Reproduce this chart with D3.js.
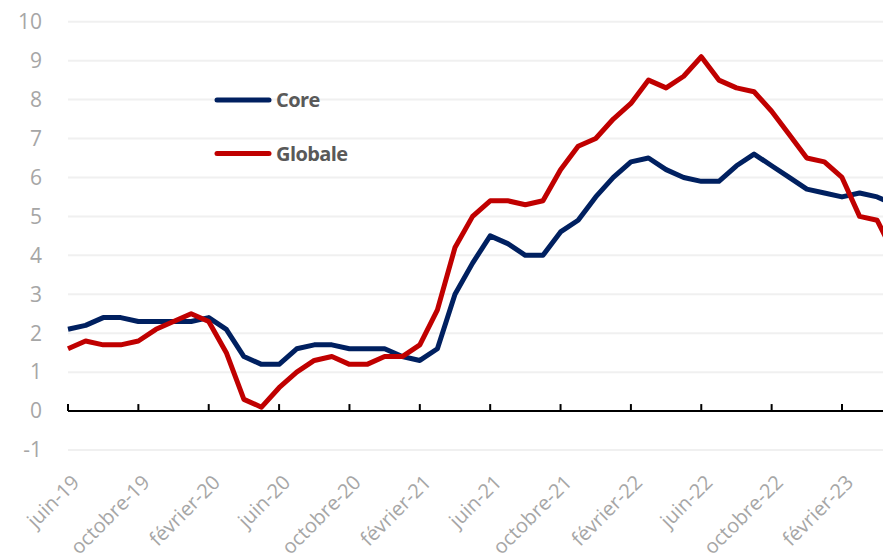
<!DOCTYPE html>
<html><head><meta charset="utf-8">
<script src="https://cdn.jsdelivr.net/npm/d3@7"></script>
<style>body{margin:0;background:#fff}svg{display:block}</style>
</head><body>
<svg id="c" width="883" height="553"></svg>
<script>
const months = ["juin-19","juillet-19","août-19","septembre-19","octobre-19","novembre-19","décembre-19","janvier-20","février-20","mars-20","avril-20","mai-20","juin-20","juillet-20","août-20","septembre-20","octobre-20","novembre-20","décembre-20","janvier-21","février-21","mars-21","avril-21","mai-21","juin-21","juillet-21","août-21","septembre-21","octobre-21","novembre-21","décembre-21","janvier-22","février-22","mars-22","avril-22","mai-22","juin-22","juillet-22","août-22","septembre-22","octobre-22","novembre-22","décembre-22","janvier-23","février-23","mars-23","avril-23","mai-23"];
const core = [2.1,2.2,2.4,2.4,2.3,2.3,2.3,2.3,2.4,2.1,1.4,1.2,1.2,1.6,1.7,1.7,1.6,1.6,1.6,1.4,1.3,1.6,3.0,3.8,4.5,4.3,4.0,4.0,4.6,4.9,5.5,6.0,6.4,6.5,6.2,6.0,5.9,5.9,6.3,6.6,6.3,6.0,5.7,5.6,5.5,5.6,5.5,5.3];
const globale = [1.6,1.8,1.7,1.7,1.8,2.1,2.3,2.5,2.3,1.5,0.3,0.1,0.6,1.0,1.3,1.4,1.2,1.2,1.4,1.4,1.7,2.6,4.2,5.0,5.4,5.4,5.3,5.4,6.2,6.8,7.0,7.5,7.9,8.5,8.3,8.6,9.1,8.5,8.3,8.2,7.7,7.1,6.5,6.4,6.0,5.0,4.9,4.0];
const yTicks = [-1,0,1,2,3,4,5,6,7,8,9,10];
const xTickIdx = [0,4,8,12,16,20,24,28,32,36,40,44];
const seriesNames = ["Core","Globale"];
const colors = ["#002060","#C00000"];

const svg = d3.select("#c");
const x = d3.scaleLinear().domain([0,44]).range([68,842]);
const y = d3.scaleLinear().domain([-1,10]).range([450,21.7]);
const plotRight = 883;

// gridlines
svg.append("g").selectAll("line").data(yTicks.filter(d=>d!==0)).join("line")
  .attr("x1",68).attr("x2",plotRight).attr("y1",d=>y(d)).attr("y2",d=>y(d))
  .attr("stroke","#f0f0f0").attr("stroke-width",2);

// y labels
svg.append("g").selectAll("text").data(yTicks).join("text")
  .attr("x",42).attr("y",d=>y(d)).attr("dy","0.35em").attr("text-anchor","end")
  .attr("font-family","'Open Sans', sans-serif").attr("font-size",21).attr("fill","#a6a6a6")
  .text(d=>d<0?"-"+Math.abs(d):d);

// x axis at 0
const xa = svg.append("g");
xa.append("line").attr("x1",68).attr("x2",plotRight).attr("y1",y(0)).attr("y2",y(0))
  .attr("stroke","#000").attr("stroke-width",2);
xa.selectAll("line.t").data(xTickIdx).join("line").attr("class","t")
  .attr("x1",d=>x(d)).attr("x2",d=>x(d)).attr("y1",y(0)).attr("y2",y(0)-7)
  .attr("stroke","#000").attr("stroke-width",2);
xa.selectAll("text").data(xTickIdx).join("text")
  .attr("transform",d=>`translate(${x(d)+2},${473}) rotate(-45)`)
  .attr("text-anchor","end").attr("dy","0.75em")
  .attr("font-family","'Open Sans', sans-serif").attr("font-size",20).attr("fill","#a6a6a6")
  .text(d=>months[d]);

// lines
const line = d3.line().x((d,i)=>x(i)).y(d=>y(d));
[core, globale].forEach((s,k)=>{
  svg.append("path").datum(s).attr("d",line).attr("fill","none")
    .attr("stroke",colors[k]).attr("stroke-width",5).attr("stroke-linejoin","round");
});

// legend
const lg = svg.append("g");
seriesNames.forEach((n,k)=>{
  const ly = 100 + k*53.5;
  lg.append("line").attr("x1",217).attr("x2",269).attr("y1",ly).attr("y2",ly)
    .attr("stroke",colors[k]).attr("stroke-width",5).attr("stroke-linecap","round");
  lg.append("text").attr("x",276).attr("y",ly).attr("dy","0.36em")
    .attr("font-family","'Open Sans', sans-serif").attr("font-weight","bold").attr("font-size",20)
    .attr("fill","#595959").attr("letter-spacing","-0.6").text(n);
});
</script>
</body></html>
